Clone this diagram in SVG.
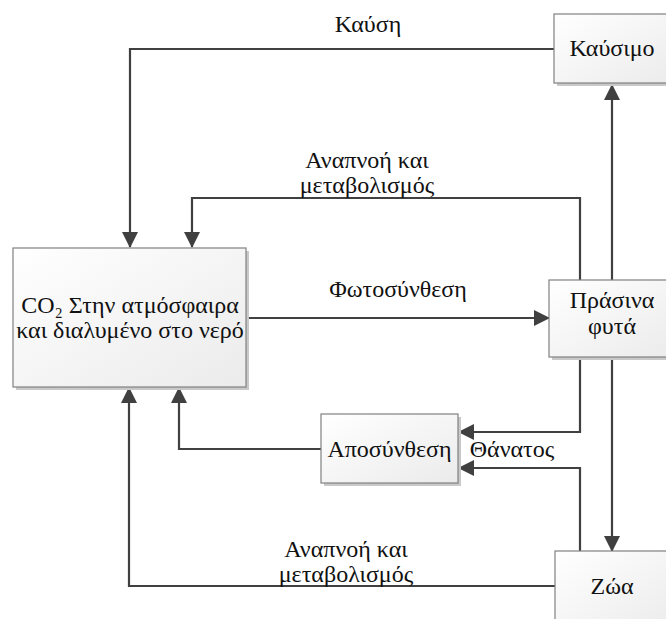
<svg xmlns="http://www.w3.org/2000/svg" width="666" height="619" viewBox="0 0 666 619">
  <defs>
    <linearGradient id="boxFill" x1="0" y1="0" x2="1" y2="1">
      <stop offset="0" stop-color="#ffffff"/>
      <stop offset="1" stop-color="#ebebeb"/>
    </linearGradient>
    <marker id="arrow" viewBox="0 0 16 16" refX="15" refY="8" markerWidth="16" markerHeight="16" markerUnits="userSpaceOnUse" orient="auto">
      <path d="M0,0 L16,8 L0,16 Z" fill="#404040"/>
    </marker>
  </defs>
  <style>
    .shadow { fill: #c9c9c9; }
    .box { fill: url(#boxFill); stroke: #808080; stroke-width: 1.2; }
    .lbl { font-family: "Liberation Serif", "Times New Roman", serif; font-size: 24px; fill: #111111; text-anchor: middle; }
    .conn { fill: none; stroke: #404040; stroke-width: 2.2; marker-end: url(#arrow); }
  </style>
  <rect width="666" height="619" fill="#ffffff"/>

  <!-- connectors -->
  <g id="connectors">
    <path class="conn" d="M554,49 H130 V247"/>
    <path class="conn" d="M580,280 V198 H192 V247"/>
    <path class="conn" d="M246,318 H549"/>
    <path class="conn" d="M612,280 V85"/>
    <path class="conn" d="M612,357 V551"/>
    <path class="conn" d="M580,357 V432 H459"/>
    <path class="conn" d="M580,551 V468 H459"/>
    <path class="conn" d="M321,449 H179 V388"/>
    <path class="conn" d="M555,586 H129 V388"/>
  </g>

  <!-- connector labels -->
  <g id="labels">
    <text class="lbl" x="368" y="32">Καύση</text>
    <text class="lbl" x="367" y="168">Αναπνοή και</text>
    <text class="lbl" x="367" y="193">μεταβολισμός</text>
    <text class="lbl" x="398" y="297">Φωτοσύνθεση</text>
    <text class="lbl" x="512" y="457">Θάνατος</text>
    <text class="lbl" x="346" y="557">Αναπνοή και</text>
    <text class="lbl" x="346" y="582">μεταβολισμός</text>
  </g>

  <!-- nodes -->
  <g id="co2">
    <rect class="shadow" x="16" y="251" width="233" height="139"/>
    <rect class="box" x="13" y="248" width="233" height="139"/>
    <text class="lbl" x="130" y="313">CO₂ Στην ατμόσφαιρα</text>
    <text class="lbl" x="130" y="338">και διαλυμένο στο νερό</text>
  </g>

  <g id="kafsimo">
    <rect class="shadow" x="557" y="17" width="120" height="69"/>
    <rect class="box" x="554" y="14" width="120" height="69"/>
    <text class="lbl" x="612" y="56">Καύσιμο</text>
  </g>

  <g id="prasina-fyta">
    <rect class="shadow" x="552" y="283" width="126" height="77"/>
    <rect class="box" x="549" y="280" width="126" height="77"/>
    <text class="lbl" x="612" y="308">Πράσινα</text>
    <text class="lbl" x="612" y="334">φυτά</text>
  </g>

  <g id="aposynthesi">
    <rect class="shadow" x="324" y="417" width="137" height="69"/>
    <rect class="box" x="321" y="414" width="137" height="69"/>
    <text class="lbl" x="389.5" y="457">Αποσύνθεση</text>
  </g>

  <g id="zoa">
    <rect class="shadow" x="558" y="554" width="120" height="80"/>
    <rect class="box" x="555" y="551" width="120" height="80"/>
    <text class="lbl" x="612" y="594">Ζώα</text>
  </g>
</svg>
